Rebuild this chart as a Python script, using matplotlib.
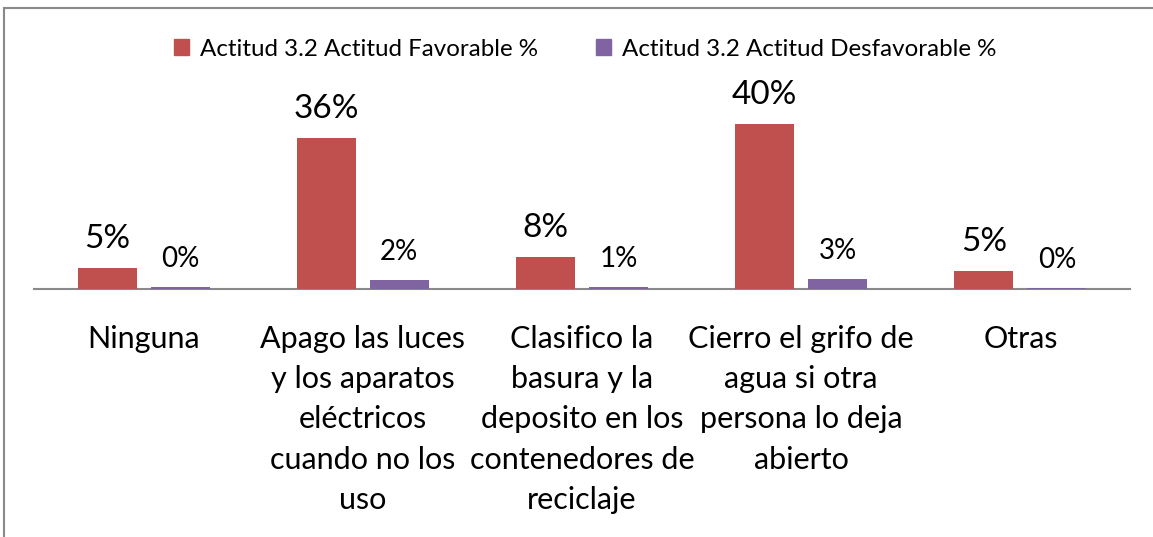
import matplotlib
matplotlib.use("Agg")
import matplotlib.pyplot as plt
from matplotlib.patches import Patch, Rectangle
import numpy as np

plt.rcParams['font.family'] = ['Lato', 'DejaVu Sans']

categories = [
    "Ninguna",
    "Apago las luces\ny los aparatos\neléctricos\ncuando no los\nuso",
    "Clasifico la\nbasura y la\ndeposito en los\ncontenedores de\nreciclaje",
    "Cierro el grifo de\nagua si otra\npersona lo deja\nabierto",
    "Otras",
]
series_names = ["Actitud 3.2 Actitud Favorable %", "Actitud 3.2 Actitud Desfavorable %"]
favorable = [5.2, 36.6, 7.8, 40.0, 4.4]
desfavorable = [0.4, 2.3, 0.5, 2.5, 0.3]
favorable_labels = ["5%", "36%", "8%", "40%", "5%"]
desfavorable_labels = ["0%", "2%", "1%", "3%", "0%"]

RED = "#C0504D"
PURPLE = "#8064A2"
GREY = "#898989"

W, H = 1153, 537
fig = plt.figure(figsize=(W / 100, H / 100), dpi=100)
fig.patch.set_facecolor("white")

# axes placement (pixels)
x0, x1 = 34, 1130
y_base = 289
px_per_unit = 4.125
ymax = 45
y_top = y_base - ymax * px_per_unit
ax = fig.add_axes([x0 / W, (H - y_base) / H, (x1 - x0) / W, (y_base - y_top) / H])

x = np.arange(len(categories))
bw = 0.269
off = 0.1665
b1 = ax.bar(x - off, favorable, bw, color=RED, label=series_names[0], zorder=3)
b2 = ax.bar(x + off, desfavorable, bw, color=PURPLE, label=series_names[1], zorder=3)

for rect, lab in zip(b1, favorable_labels):
    ax.annotate(lab, (rect.get_x() + rect.get_width() / 2, rect.get_height()),
                xytext=(0, 14.4), textcoords="offset points",
                ha="center", va="baseline", fontsize=24, color="black")
for rect, lab in zip(b2, desfavorable_labels):
    ax.annotate(lab, (rect.get_x() + rect.get_width() / 2, rect.get_height()),
                xytext=(0, 14.4), textcoords="offset points",
                ha="center", va="baseline", fontsize=20, color="black")

ax.set_xlim(-0.5, len(categories) - 0.5)
ax.set_ylim(0, ymax)
for s in ["top", "right", "left"]:
    ax.spines[s].set_visible(False)
ax.spines["bottom"].set_color(GREY)
ax.spines["bottom"].set_linewidth(1.5)
ax.spines["bottom"].set_zorder(2)
ax.set_yticks([])
ax.set_xticks(x)
ax.set_xticklabels(categories, fontsize=22, linespacing=1.53, va="top")
ax.tick_params(axis="x", length=0, pad=26)
ax.set_facecolor("none")

handles = [Patch(color=RED), Patch(color=PURPLE)]
fig.legend(handles, series_names, loc="center", bbox_to_anchor=(585 / W, (H - 49) / H),
           ncol=2, frameon=False, fontsize=17.4, handlelength=0.62, handleheight=0.62,
           handletextpad=0.45, columnspacing=2.4)

# outer frame (left and top edges visible)
fig.patches.append(Rectangle((3.5 / W, -0.2), 1.2, (H - 8) / H + 0.2,
                             transform=fig.transFigure, fill=False,
                             edgecolor=GREY, linewidth=1.5))

fig.savefig("out.png", dpi=100)
